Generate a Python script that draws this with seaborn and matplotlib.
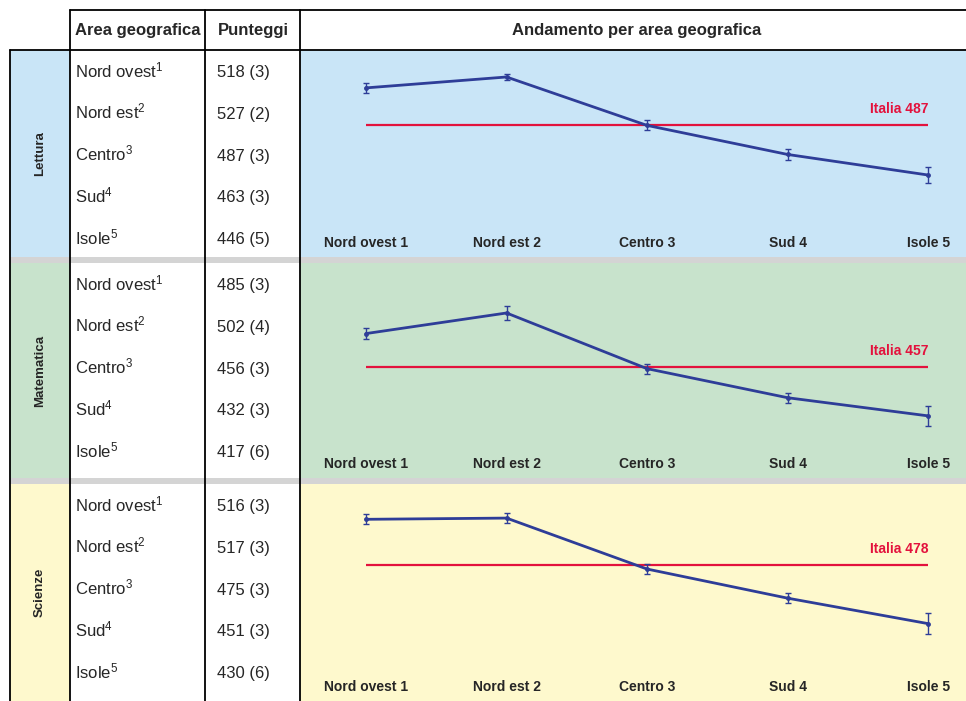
import numpy as np
import pandas as pd
import matplotlib
matplotlib.use("Agg")
import matplotlib.pyplot as plt
from matplotlib import font_manager
from matplotlib.patches import Rectangle
from matplotlib.lines import Line2D
import seaborn as sns

# ---- data ---------------------------------------------------------------
areas = ["Nord ovest", "Nord est", "Centro", "Sud", "Isole"]
area_ticks = ["Nord ovest 1", "Nord est 2", "Centro 3", "Sud 4", "Isole 5"]
subjects = ["Lettura", "Matematica", "Scienze"]

lettura = [518, 527, 487, 463, 446]
lettura_se = [3, 2, 3, 3, 5]
matematica = [485, 502, 456, 432, 417]
matematica_se = [3, 4, 3, 3, 6]
scienze = [516, 517, 475, 451, 430]
scienze_se = [3, 3, 3, 3, 6]
italia = [487, 457, 478]

scores = [lettura, matematica, scienze]
errors = [lettura_se, matematica_se, scienze_se]

# ---- style --------------------------------------------------------------
sns.set_theme(style="white")
names = {f.name for f in font_manager.fontManager.ttflist}
base_font = "Liberation Sans" if "Liberation Sans" in names else "DejaVu Sans"
narrow = "Liberation Sans Narrow" in names
narrow_font = "Liberation Sans Narrow" if narrow else base_font
plt.rcParams["font.family"] = [base_font, "DejaVu Sans"]
plt.rcParams["mathtext.fontset"] = "custom"
plt.rcParams["mathtext.rm"] = base_font
plt.rcParams["mathtext.it"] = base_font
plt.rcParams["mathtext.bf"] = base_font

# sizes for the condensed bold labels
tick_size = 11 if narrow else 10
italia_size = 11 if narrow else 10
subj_size = 10.5 if narrow else 9.5

W, H = 966, 701
fig = plt.figure(figsize=(W / 100, H / 100), dpi=100)
fig.patch.set_facecolor("white")


def fx(x):
    return x / W


def fy(y):
    return 1 - y / H


band_px = [(50, 257), (263, 478), (484, 701)]
band_colors = ["#C9E5F7", "#C8E3CC", "#FEF9CD"]
sep_color = "#D4D4D4"
line_blue = "#2E3D98"
line_red = "#E3123D"
ylims = [(401.4, 549.3), (388.8, 543.3), (389.3, 545.1)]


def rect(x0, y0, x1, y1, color, z=0):
    fig.add_artist(Rectangle((fx(x0), fy(y1)), (x1 - x0) / W, (y1 - y0) / H,
                             transform=fig.transFigure, facecolor=color,
                             edgecolor="none", zorder=z))


# background bands and separators
for (top, bot), col in zip(band_px, band_colors):
    rect(10, top, 70, bot, col)
    rect(300, top, W, bot, col)
rect(10, 257, W, 263, sep_color)
rect(10, 478, W, 484, sep_color)


# table grid
def vline(x, y0, y1):
    fig.add_artist(Line2D([fx(x), fx(x)], [fy(y0), fy(y1)], color="black",
                          lw=1.3, transform=fig.transFigure, zorder=5))


def hline(y, x0, x1):
    fig.add_artist(Line2D([fx(x0), fx(x1)], [fy(y), fy(y)], color="black",
                          lw=1.3, transform=fig.transFigure, zorder=5))


hline(10, 70, W)
hline(50, 10, W)
vline(10, 50, H)
vline(70, 10, H)
vline(205, 10, H)
vline(300, 10, H)

# header
fig.text(fx(138), fy(30), "Area geografica", ha="center", va="center",
         fontsize=12, fontweight="bold")
fig.text(fx(253), fy(30), "Punteggi", ha="center", va="center",
         fontsize=12, fontweight="bold")
fig.text(fx(637), fy(30), "Andamento per area geografica", ha="center",
         va="center", fontsize=12, fontweight="bold")

x_pos = np.arange(len(areas))

for i, ((top, bot), subj) in enumerate(zip(band_px, subjects)):
    vals = scores[i]
    se = errors[i]

    # subject label, rotated
    fig.text(fx(40), fy((top + bot) / 2), subj, rotation=90, ha="center",
             va="center", fontsize=subj_size, fontweight="bold",
             family=[narrow_font, "DejaVu Sans"])

    # table rows
    for j, (area, v, s) in enumerate(zip(areas, vals, se)):
        yb = top + 27 + 41.8 * j
        fig.text(fx(75), fy(yb), f"{area}$^{{{j + 1}}}$", ha="left",
                 va="baseline", fontsize=12)
        fig.text(fx(217), fy(yb), f"{v} ({s})", ha="left", va="baseline",
                 fontsize=12)

    # trend chart
    ax_bottom = bot - 28
    ax = fig.add_axes([fx(300), fy(ax_bottom), (W - 300) / W,
                       (ax_bottom - top) / H])
    ax.patch.set_alpha(0)
    for sp in ax.spines.values():
        sp.set_visible(False)

    df = pd.DataFrame({"pos": x_pos, "score": vals, "se": se})
    ax.hlines(italia[i], x_pos[0], x_pos[-1], color=line_red, lw=1.6,
              zorder=2)
    sns.lineplot(data=df, x="pos", y="score", ax=ax, color=line_blue,
                 lw=2.0, marker="o", markersize=3.5, markeredgewidth=0,
                 zorder=3)
    ax.errorbar(df["pos"], df["score"], yerr=1.4 * df["se"], fmt="none",
                ecolor=line_blue, elinewidth=1.0, capsize=2.5, capthick=1.0,
                zorder=4)
    ax.annotate(f"Italia {italia[i]}", xy=(x_pos[-1], italia[i]),
                xytext=(0, 11.5), textcoords="offset points", ha="right",
                va="center", color=line_red, fontsize=italia_size,
                fontweight="bold", family=[narrow_font, "DejaVu Sans"])

    ax.set_xlim(-0.47, 4.27)
    ax.set_ylim(*ylims[i])
    ax.set_yticks([])
    ax.set_xticks(x_pos)
    ax.set_xticklabels(area_ticks, fontsize=tick_size, fontweight="bold",
                       family=[narrow_font, "DejaVu Sans"])
    ax.tick_params(axis="x", length=0, pad=5)
    ax.set_xlabel("")
    ax.set_ylabel("")

fig.savefig("out.png", dpi=100, facecolor="white")
